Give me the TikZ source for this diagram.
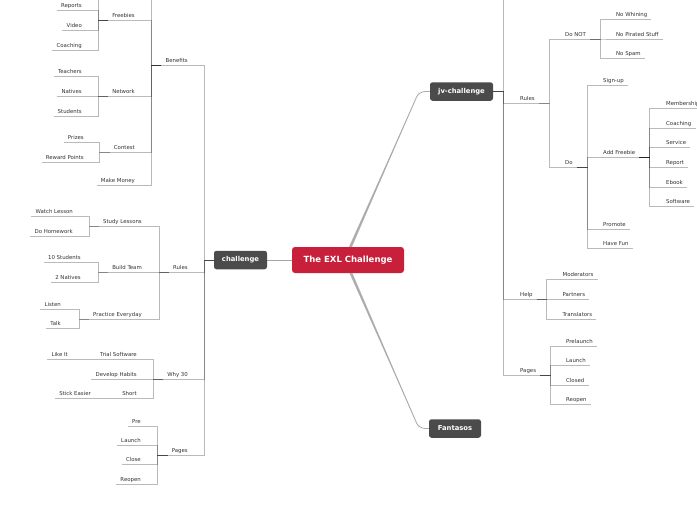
\documentclass[tikz,border=0pt]{standalone}
\usepackage{fontspec}
\setmainfont{DejaVu Sans}
\usetikzlibrary{positioning,calc}
\definecolor{exlred}{HTML}{C8203A}
\definecolor{hubgray}{HTML}{4B4B4B}

\begin{document}
\begin{tikzpicture}[
  x=1pt,y=-1pt,
  wire/.style={draw=black,draw opacity=0.27,line width=0.6pt},
  lwire/.style={wire,to path={-- ++(-10,0) |- (\tikztotarget)}},
  rwire/.style={wire,to path={-- ++(10,0) |- (\tikztotarget)}},
  topic/.style={font=\fontsize{5.4}{6}\selectfont,text=black!80,inner xsep=4pt,inner ysep=1.5pt,
    text height=4pt,text depth=1.2pt,
    append after command={(\tikzlastnode.south west) edge[wire] (\tikzlastnode.south east)}},
  ltopic/.style={topic,anchor=south east},
  rtopic/.style={topic,anchor=south west},
  hub/.style={rectangle,rounded corners=2.5pt,fill=hubgray,text=white,inner sep=0pt,
    font=\fontsize{6.8}{8}\selectfont\bfseries,minimum height=18.5pt},
  core/.style={rectangle,rounded corners=3pt,fill=exlred,text=white,inner sep=0pt,
    font=\fontsize{8.5}{10}\selectfont\bfseries,minimum width=112pt,minimum height=26pt},
  spoke/.style={draw=black!33,line width=0.8pt,rounded corners=6pt}
]
\useasboundingbox (0,0) rectangle (697,520);
\clip (0,0) rectangle (697,520);
\fill[white] (0,0) rectangle (697,520);

\node[core] (exl) at (348,260) {The EXL Challenge};
\node[hub,minimum width=53pt] (chal) at (240.5,260) {challenge};
\node[hub,minimum width=63pt] (jv) at (461.5,91.5) {jv-challenge};
\node[hub,minimum width=52pt] (fan) at (455,428.5) {Fantasos};
\coordinate (jvknee) at (419,91.5);
\coordinate (fanknee) at (419,428.5);

\draw[wire,draw opacity=0.35,line width=0.8pt] (exl.west) -- (chal.east);
\fill[black!30] ([xshift=1pt]exl.north) -- ([xshift=4pt]exl.north) -- (jvknee) -- cycle;
\draw[spoke] ([xshift=2.5pt]exl.north) -- (jvknee) -- (jv.west);
\fill[black!30] ([xshift=1.5pt]exl.south) -- ([xshift=4.5pt]exl.south) -- (fanknee) -- cycle;
\draw[spoke] ([xshift=3pt]exl.south) -- (fanknee) -- (fan.west);

% challenge
\node[ltopic] (ben) at (192,65) {Benefits};
\node[ltopic] (lrules) at (192,272.5) {Rules};
\node[ltopic] (why) at (192,379.3) {Why 30};
\node[ltopic] (lpages) at (192,455) {Pages};

\coordinate (benhide) at (139,-15);
\node[ltopic] (freeb) at (139,20.7) {Freebies};
\node[ltopic] (netw) at (139,96.7) {Network};
\node[ltopic] (contest) at (139,152.7) {Contest};
\node[ltopic] (money) at (139,185) {Make Money};

\coordinate (freehide) at (86,-10);
\node[ltopic] (reports) at (86,10.7) {Reports};
\node[ltopic] (video) at (86,30.7) {Video};
\node[ltopic] (fcoach) at (86,50) {Coaching};
\node[ltopic] (teach) at (86,76.7) {Teachers};
\node[ltopic] (nnat) at (86,96.7) {Natives};
\node[ltopic] (stud) at (86,116) {Students};
\node[ltopic] (prizes) at (88,142.7) {Prizes};
\node[ltopic] (points) at (88,162.3) {Reward Points};

\node[ltopic] (study) at (146,226) {Study Lessons};
\node[ltopic] (team) at (146,272.5) {Build Team};
\node[ltopic] (practice) at (146,319.3) {Practice Everyday};
\node[ltopic] (watch) at (77,216) {Watch Lesson};
\node[ltopic] (homework) at (77,236) {Do Homework};
\node[ltopic] (tenstud) at (85,262.7) {10 Students};
\node[ltopic] (twonat) at (85,282.3) {2 Natives};
\node[ltopic] (listen) at (65,309.3) {Listen};
\node[ltopic] (talk) at (65,328.7) {Talk};

\node[ltopic] (trial) at (141,359.3) {Trial Software};
\node[ltopic] (habits) at (141,379.3) {Develop Habits};
\node[ltopic] (short) at (141,398.7) {Short};
\node[ltopic] (likeit) at (72,359.3) {Like It};
\node[ltopic] (stick) at (95,398.7) {Stick Easier};

\node[ltopic] (lpre) at (145,426) {Pre};
\node[ltopic] (llaunch) at (145,445.7) {Launch};
\node[ltopic] (lclose) at (145,464.7) {Close};
\node[ltopic] (lreopen) at (145,484.3) {Reopen};

\path (chal.west) edge[lwire] (ben.south east) edge[lwire] (lrules.south east)
  edge[lwire] (why.south east) edge[lwire] (lpages.south east);
\path (ben.south west) edge[lwire] (benhide) edge[lwire] (freeb.south east)
  edge[lwire] (netw.south east) edge[lwire] (contest.south east) edge[lwire] (money.south east);
\path (freeb.south west) edge[lwire] (freehide) edge[lwire] (reports.south east)
  edge[lwire] (video.south east) edge[lwire] (fcoach.south east);
\path (netw.south west) edge[lwire] (teach.south east) edge[lwire] (nnat.south east)
  edge[lwire] (stud.south east);
\path (contest.south west) edge[lwire] (prizes.south east) edge[lwire] (points.south east);
\path (lrules.south west) edge[lwire] (study.south east) edge[lwire] (team.south east)
  edge[lwire] (practice.south east);
\path (study.south west) edge[lwire] (watch.south east) edge[lwire] (homework.south east);
\path (team.south west) edge[lwire] (tenstud.south east) edge[lwire] (twonat.south east);
\path (practice.south west) edge[lwire] (listen.south east) edge[lwire] (talk.south east);
\path (why.south west) edge[lwire] (trial.south east) edge[lwire] (habits.south east)
  edge[lwire] (short.south east);
\path (trial.south west) edge[lwire] (likeit.south east);
\path (short.south west) edge[lwire] (stick.south east);
\path (lpages.south west) edge[lwire] (lpre.south east) edge[lwire] (llaunch.south east)
  edge[lwire] (lclose.south east) edge[lwire] (lreopen.south east);

% jv-challenge
\coordinate (jvhide) at (516,-15);
\node[rtopic] (rrules) at (516,103.3) {Rules};
\node[rtopic] (help) at (516,299.3) {Help};
\node[rtopic] (rpages) at (516,375.3) {Pages};

\node[rtopic] (donot) at (561,39) {Do NOT};
\node[rtopic] (dodo) at (561,167.3) {Do};
\node[rtopic] (whine) at (612,19.5) {No Whining};
\node[rtopic] (pirate) at (612,39) {No Pirated Stuff};
\node[rtopic] (spam) at (612,58.7) {No Spam};

\node[rtopic] (signup) at (599,85.3) {Sign-up};
\node[rtopic] (addfree) at (599,157.3) {Add Freebie};
\node[rtopic] (promote) at (599,229.3) {Promote};
\node[rtopic] (havefun) at (599,248.7) {Have Fun};

\node[rtopic] (member) at (662,108.3) {Membership};
\node[rtopic] (rcoach) at (662,128.3) {Coaching};
\node[rtopic] (service) at (662,147.7) {Service};
\node[rtopic] (report) at (662,167.3) {Report};
\node[rtopic] (ebook) at (662,187) {Ebook};
\node[rtopic] (software) at (662,206.7) {Software};

\node[rtopic] (moder) at (558.5,279.3) {Moderators};
\node[rtopic] (partner) at (558.5,299.3) {Partners};
\node[rtopic] (transl) at (558.5,319) {Translators};

\node[rtopic] (prelaunch) at (562,346) {Prelaunch};
\node[rtopic] (rlaunch) at (562,365.7) {Launch};
\node[rtopic] (closed) at (562,385) {Closed};
\node[rtopic] (rreopen) at (562,404.3) {Reopen};

\path (jv.east) edge[rwire] (jvhide) edge[rwire] (rrules.south west)
  edge[rwire] (help.south west) edge[rwire] (rpages.south west);
\path (rrules.south east) edge[rwire] (donot.south west) edge[rwire] (dodo.south west);
\path (donot.south east) edge[rwire] (whine.south west) edge[rwire] (pirate.south west)
  edge[rwire] (spam.south west);
\path (dodo.south east) edge[rwire] (signup.south west) edge[rwire] (addfree.south west)
  edge[rwire] (promote.south west) edge[rwire] (havefun.south west);
\path (addfree.south east) edge[rwire] (member.south west) edge[rwire] (rcoach.south west)
  edge[rwire] (service.south west) edge[rwire] (report.south west)
  edge[rwire] (ebook.south west) edge[rwire] (software.south west);
\path (help.south east) edge[rwire] (moder.south west) edge[rwire] (partner.south west)
  edge[rwire] (transl.south west);
\path (rpages.south east) edge[rwire] (prelaunch.south west) edge[rwire] (rlaunch.south west)
  edge[rwire] (closed.south west) edge[rwire] (rreopen.south west);
\end{tikzpicture}
\end{document}
